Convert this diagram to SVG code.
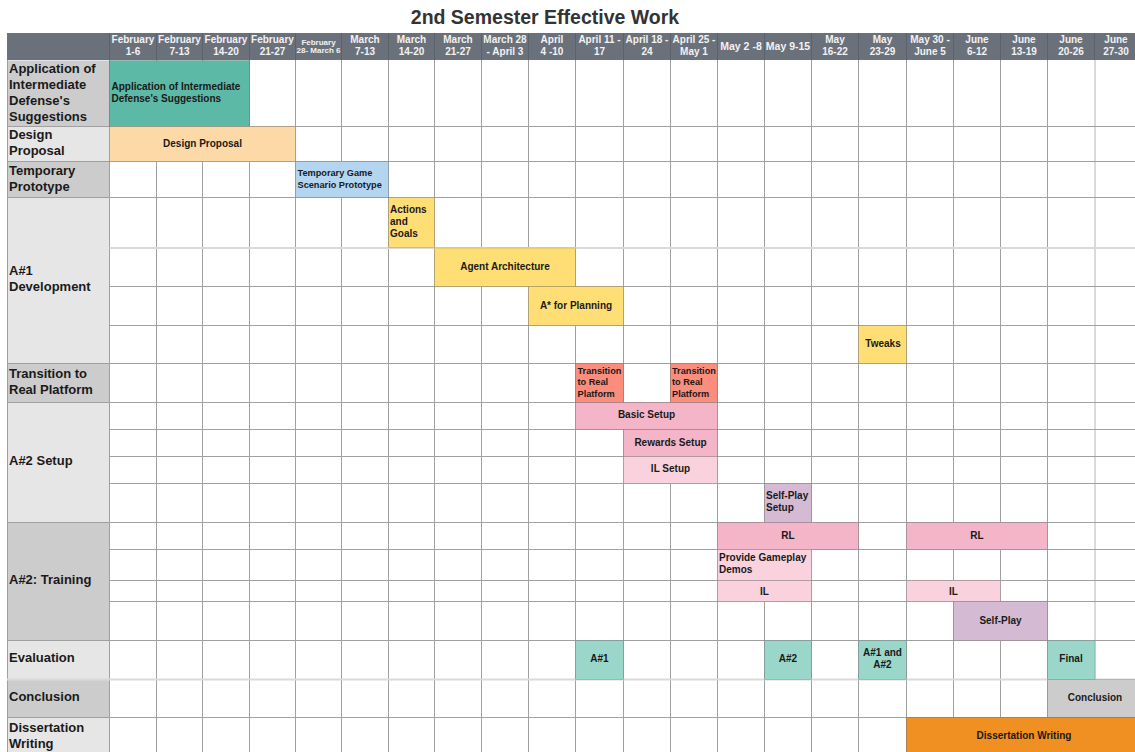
<svg xmlns="http://www.w3.org/2000/svg" width="1135" height="752" viewBox="0 0 1135 752">
<style>
text{font-family:"Liberation Sans",Arial,sans-serif;font-weight:bold;}
.title{font-size:19.5px;fill:#333;}
.hd{font-size:10px;fill:#f2f2f2;text-anchor:middle;}
.hds{font-size:8px;fill:#f2f2f2;text-anchor:middle;}
.hdl{font-size:10.5px;fill:#f2f2f2;text-anchor:middle;}
.lbl{font-size:13px;fill:#1a1a1a;}
.t{font-size:10px;fill:#1a1a1a;}
.ts{font-size:9.2px;fill:#1a1a1a;}
.tc{font-size:10px;fill:#1a1a1a;text-anchor:middle;}
.g{stroke:#a0a0a0;stroke-width:1;fill:none;}
.gl{stroke:#dadada;stroke-width:2;fill:none;}
.lk{fill:#e6e6e6;}
.dk{fill:#cccccc;}
.bar{stroke:#000;stroke-opacity:0.15;stroke-width:1;}
.teal{fill:#5bb9a6;}
.peach{fill:#fdd9a8;}
.blue{fill:#b3d5ef;}
.yel{fill:#ffde75;}
.sal{fill:#fb8d7c;}
.pink{fill:#f3b5c7;}
.lpink{fill:#f9d2dd;}
.lil{fill:#d4bbd3;}
.ev{fill:#9bd6ca;}
.gry{fill:#cccccc;}
.org{fill:#f08f22;}
</style>
<rect x="0" y="0" width="1135" height="752" fill="#ffffff"/>
<text class="title" x="545" y="24" text-anchor="middle">2nd Semester Effective Work</text>

<g id="header">
<rect x="7" y="33" width="1128" height="27" fill="#6b717b"/>
<g stroke="#5c626b" stroke-width="1">
<path d="M109.5 33V60M156.5 33V60M202.5 33V60M249.5 33V60M295.5 33V60M341.5 33V60M388.5 33V60M434.5 33V60M481.5 33V60M528.5 33V60M575.5 33V60M623.5 33V60M670.5 33V60M717.5 33V60M764.5 33V60M811.5 33V60M858.5 33V60M906.5 33V60M953.5 33V60M1000.5 33V60M1047.5 33V60M1094.5 33V60"/>
</g>
<text class="hd" x="133" y="43">February</text><text class="hd" x="133" y="55">1-6</text>
<text class="hd" x="179.5" y="43">February</text><text class="hd" x="179.5" y="55">7-13</text>
<text class="hd" x="226" y="43">February</text><text class="hd" x="226" y="55">14-20</text>
<text class="hd" x="272.5" y="43">February</text><text class="hd" x="272.5" y="55">21-27</text>
<text class="hds" x="318.5" y="44.5">February</text><text class="hds" x="318.5" y="53">28- March 6</text>
<text class="hd" x="365" y="43">March</text><text class="hd" x="365" y="55">7-13</text>
<text class="hd" x="411.5" y="43">March</text><text class="hd" x="411.5" y="55">14-20</text>
<text class="hd" x="458" y="43">March</text><text class="hd" x="458" y="55">21-27</text>
<text class="hd" x="505" y="43">March 28</text><text class="hd" x="505" y="55">- April 3</text>
<text class="hd" x="552" y="43">April</text><text class="hd" x="552" y="55">4 -10</text>
<text class="hd" x="599.5" y="43">April 11 -</text><text class="hd" x="599.5" y="55">17</text>
<text class="hd" x="647" y="43">April 18 -</text><text class="hd" x="647" y="55">24</text>
<text class="hd" x="694" y="43">April 25 -</text><text class="hd" x="694" y="55">May 1</text>
<text class="hdl" x="741" y="50">May 2 -8</text>
<text class="hdl" x="788" y="50">May 9-15</text>
<text class="hd" x="835" y="43">May</text><text class="hd" x="835" y="55">16-22</text>
<text class="hd" x="882.5" y="43">May</text><text class="hd" x="882.5" y="55">23-29</text>
<text class="hd" x="930" y="43">May 30 -</text><text class="hd" x="930" y="55">June 5</text>
<text class="hd" x="977" y="43">June</text><text class="hd" x="977" y="55">6-12</text>
<text class="hd" x="1024" y="43">June</text><text class="hd" x="1024" y="55">13-19</text>
<text class="hd" x="1071" y="43">June</text><text class="hd" x="1071" y="55">20-26</text>
<text class="hd" x="1116" y="43">June</text><text class="hd" x="1116" y="55">27-30</text>
</g>

<g id="row-labels">
<rect class="dk" x="7" y="60.5" width="102.5" height="66"/>
<rect class="lk" x="7" y="126.5" width="102.5" height="35"/>
<rect class="dk" x="7" y="161.5" width="102.5" height="36"/>
<rect class="lk" x="7" y="197.5" width="102.5" height="166"/>
<rect class="dk" x="7" y="363.5" width="102.5" height="39"/>
<rect class="lk" x="7" y="402.5" width="102.5" height="120"/>
<rect class="dk" x="7" y="522.5" width="102.5" height="118"/>
<rect class="lk" x="7" y="640.5" width="102.5" height="39"/>
<rect class="dk" x="7" y="679.5" width="102.5" height="38"/>
<rect class="lk" x="7" y="717.5" width="102.5" height="35"/>
</g>

<g id="grid">
<path class="g" d="M109.5 60V752M156.5 60V752M202.5 60V752M249.5 60V752M295.5 60V752M341.5 60V752M388.5 60V752M434.5 60V752M481.5 60V752M528.5 60V752M575.5 60V752M623.5 60V752M670.5 60V752M717.5 60V752M764.5 60V752M811.5 60V752M858.5 60V752M906.5 60V752M953.5 60V752M1000.5 60V752M1047.5 60V752"/>
<path class="gl" d="M1095 60V752"/>
<path class="g" d="M7.5 60V752"/>
<path class="g" d="M7 126.5H1135M7 161.5H1135M7 197.5H1135M7 363.5H1135M7 402.5H1135M7 522.5H1135M7 640.5H1135M7 717.5H1135"/>
<path class="g" d="M109.5 286.5H1135M109.5 325.5H1135M109.5 429.5H1135M109.5 456.5H1135M109.5 483.5H1135M109.5 549.5H1135M109.5 580.5H1135M109.5 601.5H1135"/>
<path class="gl" d="M109.5 248H1135M7 679.5H1135"/>
</g>

<g id="label-texts">
<g id="lbl-application"><text class="lbl" x="9" y="73">Application of</text><text class="lbl" x="9" y="89">Intermediate</text><text class="lbl" x="9" y="105">Defense's</text><text class="lbl" x="9" y="121">Suggestions</text></g>
<g id="lbl-design"><text class="lbl" x="9" y="139">Design</text><text class="lbl" x="9" y="155">Proposal</text></g>
<g id="lbl-temp"><text class="lbl" x="9" y="175">Temporary</text><text class="lbl" x="9" y="191">Prototype</text></g>
<g id="lbl-a1"><text class="lbl" x="9" y="275">A#1</text><text class="lbl" x="9" y="291">Development</text></g>
<g id="lbl-transition"><text class="lbl" x="9" y="378">Transition to</text><text class="lbl" x="9" y="394">Real Platform</text></g>
<g id="lbl-a2setup"><text class="lbl" x="9" y="465">A#2 Setup</text></g>
<g id="lbl-a2train"><text class="lbl" x="9" y="584">A#2: Training</text></g>
<g id="lbl-eval"><text class="lbl" x="9" y="662">Evaluation</text></g>
<g id="lbl-concl"><text class="lbl" x="9" y="701">Conclusion</text></g>
<g id="lbl-diss"><text class="lbl" x="9" y="732">Dissertation</text><text class="lbl" x="9" y="747.5">Writing</text></g>
</g>

<g id="tasks">
<g id="t-application"><rect class="bar teal" x="109.5" y="60.5" width="140" height="66"/><text class="t" x="111.5" y="89.5">Application of Intermediate</text><text class="t" x="111.5" y="102">Defense's Suggestions</text></g>
<g id="t-design"><rect class="bar peach" x="109.5" y="126.5" width="186" height="35"/><text class="tc" x="202.5" y="147">Design Proposal</text></g>
<g id="t-temp"><rect class="bar blue" x="295.5" y="161.5" width="93" height="36"/><text class="ts" x="297.5" y="176">Temporary Game</text><text class="ts" x="297.5" y="188">Scenario Prototype</text></g>
<g id="t-actions"><rect class="bar yel" x="388.5" y="197.5" width="46" height="50"/><text class="t" x="390" y="213">Actions</text><text class="t" x="390" y="225">and</text><text class="t" x="390" y="236.5">Goals</text></g>
<g id="t-agent"><rect class="bar yel" x="434.5" y="248" width="141" height="38.5"/><text class="tc" x="505" y="269.5">Agent Architecture</text></g>
<g id="t-astar"><rect class="bar yel" x="528.5" y="286.5" width="95" height="39"/><text class="tc" x="576" y="308.5">A* for Planning</text></g>
<g id="t-tweaks"><rect class="bar yel" x="858.5" y="325.5" width="48" height="38"/><text class="tc" x="883" y="346.5">Tweaks</text></g>
<g id="t-transition1"><rect class="bar sal" x="575.5" y="363.5" width="48" height="39"/><text class="ts" x="577.5" y="373.5">Transition</text><text class="ts" x="577.5" y="385">to Real</text><text class="ts" x="577.5" y="397">Platform</text></g>
<g id="t-transition2"><rect class="bar sal" x="670.5" y="363.5" width="47" height="39"/><text class="ts" x="672" y="373.5">Transition</text><text class="ts" x="672" y="385">to Real</text><text class="ts" x="672" y="397">Platform</text></g>
<g id="t-basic"><rect class="bar pink" x="575.5" y="402.5" width="142" height="27"/><text class="tc" x="646.5" y="418">Basic Setup</text></g>
<g id="t-rewards"><rect class="bar pink" x="623.5" y="429.5" width="94" height="27"/><text class="tc" x="670.5" y="445.5">Rewards Setup</text></g>
<g id="t-ilsetup"><rect class="bar lpink" x="623.5" y="456.5" width="94" height="27"/><text class="tc" x="670.5" y="472">IL Setup</text></g>
<g id="t-spsetup"><rect class="bar lil" x="764.5" y="483.5" width="47" height="39"/><text class="t" x="766" y="499">Self-Play</text><text class="t" x="766" y="511">Setup</text></g>
<g id="t-rl1"><rect class="bar pink" x="717.5" y="522.5" width="141" height="27"/><text class="tc" x="788" y="538.5">RL</text></g>
<g id="t-rl2"><rect class="bar pink" x="906.5" y="522.5" width="141" height="27"/><text class="tc" x="977" y="538.5">RL</text></g>
<g id="t-demos"><rect class="bar lpink" x="717.5" y="549.5" width="94" height="31"/><text class="t" x="719" y="561">Provide Gameplay</text><text class="t" x="719" y="573">Demos</text></g>
<g id="t-il1"><rect class="bar lpink" x="717.5" y="580.5" width="94" height="21"/><text class="tc" x="764.5" y="594.5">IL</text></g>
<g id="t-il2"><rect class="bar lpink" x="906.5" y="580.5" width="94" height="21"/><text class="tc" x="953.5" y="594.5">IL</text></g>
<g id="t-selfplay"><rect class="bar lil" x="953.5" y="601.5" width="94" height="39"/><text class="tc" x="1000.5" y="623.5">Self-Play</text></g>
<g id="t-eval-a1"><rect class="bar ev" x="575.5" y="640.5" width="48" height="39"/><text class="tc" x="599.5" y="662">A#1</text></g>
<g id="t-eval-a2"><rect class="bar ev" x="764.5" y="640.5" width="47" height="39"/><text class="tc" x="788" y="662">A#2</text></g>
<g id="t-eval-both"><rect class="bar ev" x="858.5" y="640.5" width="48" height="39"/><text class="tc" x="882.5" y="656">A#1 and</text><text class="tc" x="882.5" y="668">A#2</text></g>
<g id="t-eval-final"><rect class="bar ev" x="1047.5" y="640.5" width="47.5" height="39"/><text class="tc" x="1071" y="662">Final</text></g>
<g id="t-conclusion"><rect class="bar gry" x="1047.5" y="679.5" width="88" height="38"/><text class="tc" x="1095" y="700.5">Conclusion</text></g>
<g id="t-diss"><rect class="bar org" x="906.5" y="717.5" width="229" height="35"/><text class="tc" x="1024" y="739">Dissertation Writing</text></g>
</g>
<g id="connectors"></g>
</svg>
